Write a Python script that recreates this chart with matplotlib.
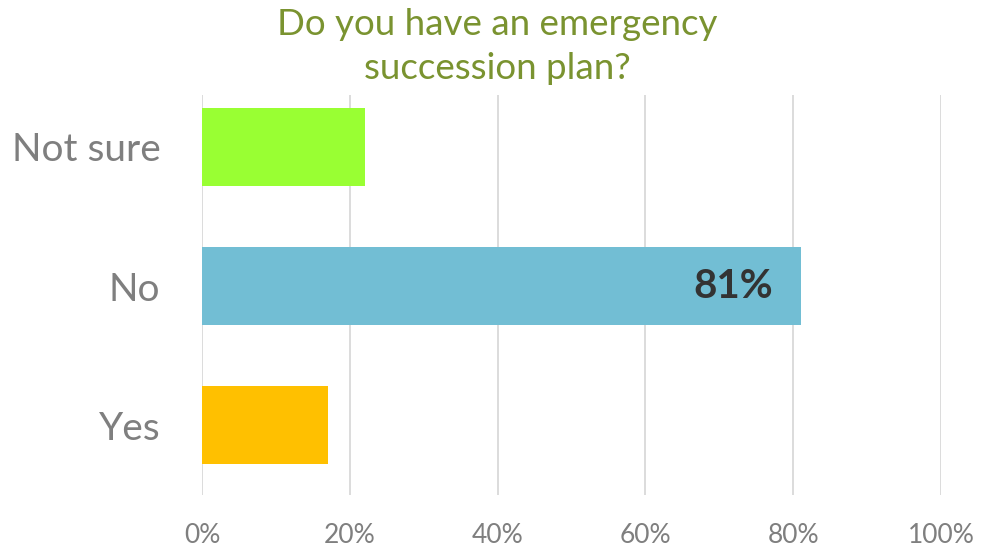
import matplotlib.pyplot as plt
from matplotlib.ticker import PercentFormatter

# data
categories = ["Yes", "No", "Not sure"]
shares = [17, 81, 22]
bar_colors = ["#FFC000", "#72BED4", "#99FF33"]
x_ticks = [0, 20, 40, 60, 80, 100]
shown_label = "No"

plt.rcParams['font.family'] = ['Lato', 'DejaVu Sans']

fig = plt.figure(figsize=(9.94, 5.5), dpi=100)
ax = fig.add_axes([0.2032, 0.1, 0.7435, 0.727])

ypos = list(range(len(categories)))
ax.barh(ypos, shares, height=0.56, color=bar_colors, zorder=3)

# value label only on the biggest bar
for y, cat, v in zip(ypos, categories, shares):
    if cat == shown_label:
        ax.text(v - 3.8, y, f"{v}%", ha="right", va="center",
                fontsize=29, fontweight="bold", color="#333333", zorder=4)

ax.set_xlim(0, 100)
ax.set_ylim(-0.5, 2.37)
ax.set_xticks(x_ticks)
ax.xaxis.set_major_formatter(PercentFormatter(decimals=0))
ax.set_yticks(ypos)
ax.set_yticklabels(categories)

ax.grid(axis="x", color="#D9D9D9", linewidth=1.3, zorder=0)
for s in ax.spines.values():
    s.set_visible(False)
ax.tick_params(axis="x", length=0, pad=20, labelsize=19, labelcolor="#7F7F7F")
ax.tick_params(axis="y", length=0, pad=30, labelsize=28, labelcolor="#7F7F7F")

fig.text(0.5, 0.985, "Do you have an emergency\nsuccession plan?", ha="center",
         va="top", fontsize=26.5, color="#7A9330", linespacing=1.4)

fig.savefig("out.png", dpi=100)
